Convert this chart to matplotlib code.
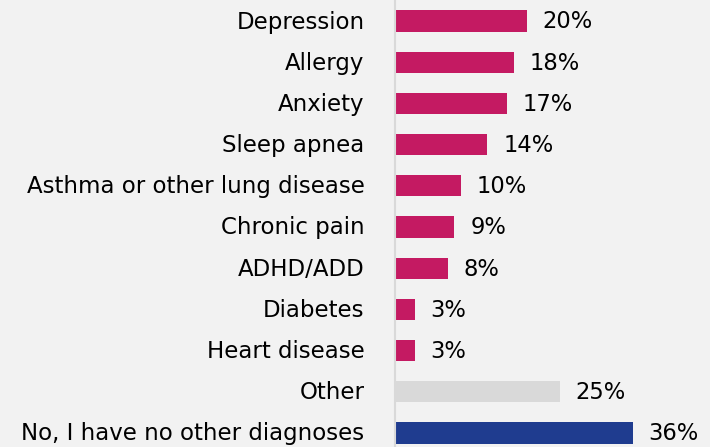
import matplotlib
matplotlib.use('agg')
import matplotlib.pyplot as plt
import matplotlib.transforms as mtransforms

# 数据
labels = ['Depression', 'Allergy', 'Anxiety', 'Sleep apnea', 'Asthma or other lung disease',
          'Chronic pain', 'ADHD/ADD', 'Diabetes', 'Heart disease', 'Other',
          'No, I have no other diagnoses']
values = [20, 18, 17, 14, 10, 9, 8, 3, 3, 25, 36]
colors = ['#C41A62'] * 9 + ['#D9D9D9', '#1F3C8F']

plt.rcParams['font.family'] = ['DejaVu Sans']

fig = plt.figure(figsize=(7.1, 4.47), dpi=100, facecolor='#F2F2F2')
ax = fig.add_axes([395 / 710, 0, 315 / 710, 1])
ax.set_facecolor('#F2F2F2')

ypos = list(range(len(labels)))
ax.barh(ypos, values, height=0.51, color=colors)

# 文字稍微上移一点
shift = mtransforms.ScaledTranslation(0, 0.015, fig.dpi_scale_trans)

for y, v in zip(ypos, values):
    ax.text(v + 2.4, y, f'{v}%', va='center_baseline', ha='left', fontsize=16.3,
            color='#000000', transform=ax.transData + shift)

ax.set_xlim(0, 315 / 6.6)
ax.set_ylim(10 + 14 / 41.2, -21 / 41.2)
ax.set_yticks(ypos)
ax.set_yticklabels(labels, fontsize=16.5)
ax.tick_params(axis='y', length=0, pad=22)
for lab in ax.get_yticklabels():
    lab.set_transform(lab.get_transform() + shift)
ax.set_xticks([])
for s in ['top', 'right', 'bottom']:
    ax.spines[s].set_visible(False)
ax.spines['left'].set_color('#D9D9D9')
ax.spines['left'].set_linewidth(1.5)

fig.savefig('out.png', dpi=100, facecolor=fig.get_facecolor())
